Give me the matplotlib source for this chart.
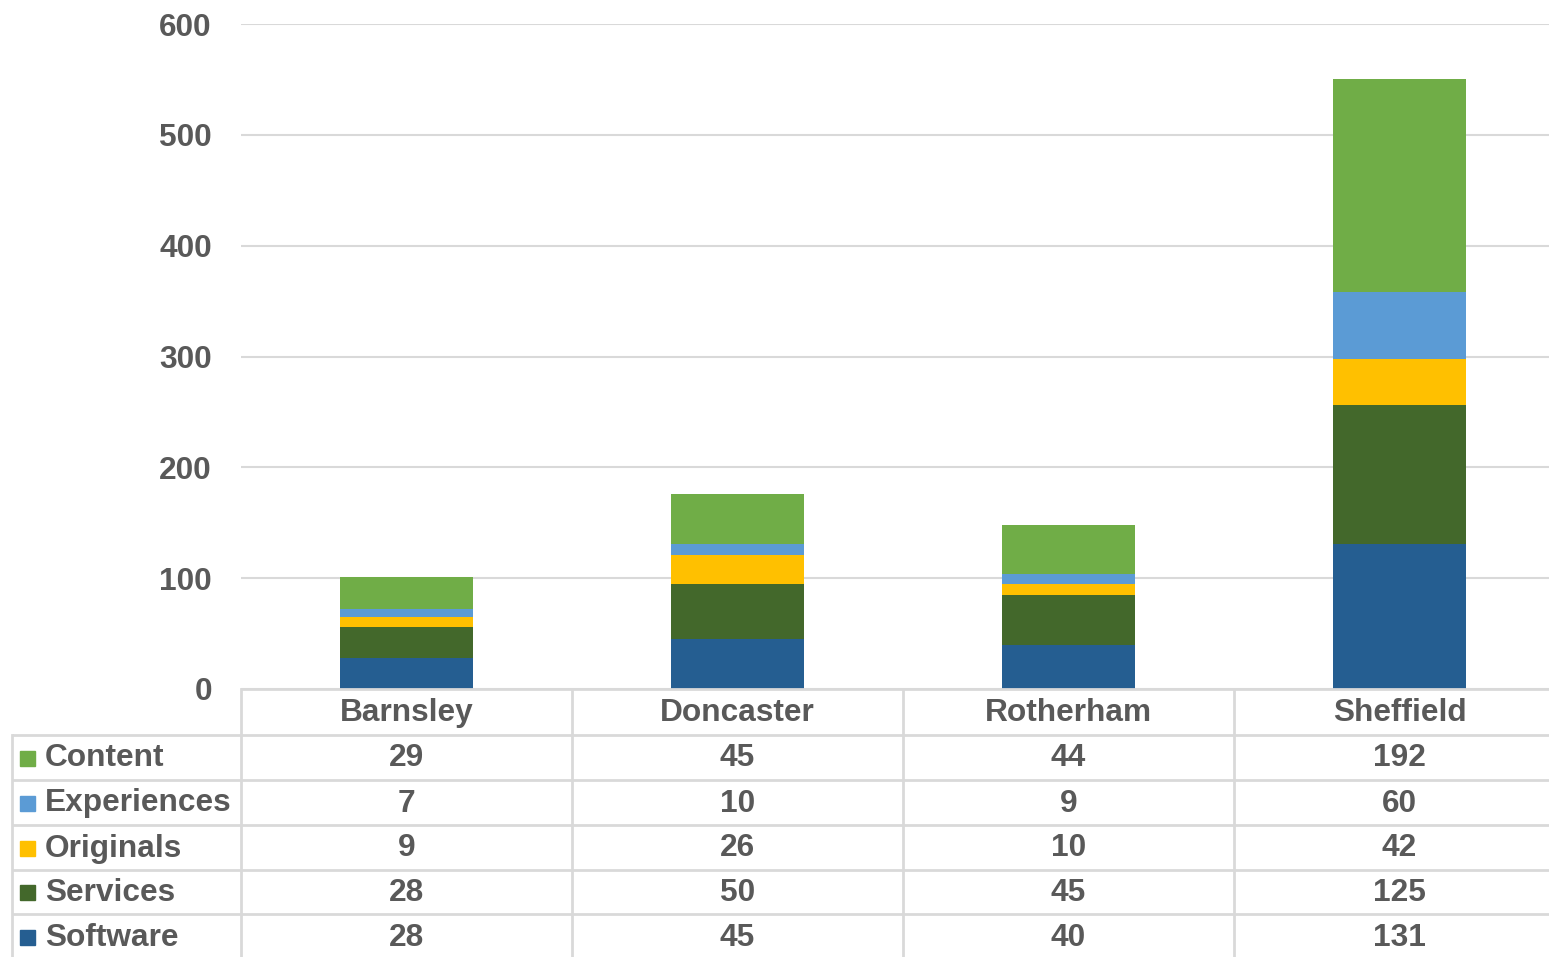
import matplotlib
matplotlib.use("Agg")
import matplotlib.pyplot as plt
from matplotlib.transforms import blended_transform_factory
from matplotlib.patches import Rectangle

categories = ["Barnsley", "Doncaster", "Rotherham", "Sheffield"]
series_names = ["Software", "Services", "Originals", "Experiences", "Content"]
software = [28, 45, 40, 131]
services = [28, 50, 45, 125]
originals = [9, 26, 10, 42]
experiences = [7, 10, 9, 60]
content = [29, 45, 44, 192]
yticks = [0, 100, 200, 300, 400, 500, 600]

series = [software, services, originals, experiences, content]
colors = ["#255E91", "#43682B", "#FFC000", "#5B9BD5", "#70AD47"]

plt.rcParams['font.family'] = ['Liberation Sans', 'DejaVu Sans']
W, H = 1549, 957
fig = plt.figure(figsize=(W / 100, H / 100), dpi=100)
fig.patch.set_facecolor("white")

txt = "#595959"
grid = "#D9D9D9"
fs = 22.8

# main axes in pixel layout
left, right, top, bottom = 241, 1565, 24, 689
ax = fig.add_axes([left / W, (H - bottom) / H, (right - left) / W, (bottom - top) / H])
ax.set_xlim(-0.5, 3.5)
ax.set_ylim(0, 600)
x = list(range(len(categories)))
base = [0] * len(categories)
for vals, col in zip(series, colors):
    ax.bar(x, vals, width=0.40, bottom=base, color=col, zorder=3)
    base = [b + v for b, v in zip(base, vals)]
ax.set_yticks(yticks)
ax.set_yticklabels([str(t) for t in yticks], fontsize=fs, fontweight="bold", color=txt)
ax.tick_params(axis="y", length=0, pad=21)
ax.set_xticks([])
for s in ax.spines.values():
    s.set_visible(False)
ax.yaxis.grid(True, color=grid, linewidth=1.5, zorder=0)
ax.set_axisbelow(True)

# table overlay in pixel coordinates (y down)
ov = fig.add_axes([0, 0, 1, 1], facecolor="none")
ov.set_xlim(0, W)
ov.set_ylim(H, 0)
ov.axis("off")
tr = blended_transform_factory(ax.transData, ov.transData)

row_edges = [689, 735, 780, 825, 870, 914, 960]
lw = 2.0
ov.plot([left, W], [689, 689], color=grid, lw=lw, solid_capstyle="butt")
for yy in row_edges[1:-1]:
    ov.plot([12, W], [yy, yy], color=grid, lw=lw, solid_capstyle="butt")
ov.plot([12, 12], [735, H], color=grid, lw=lw)
for bx in [-0.5, 0.5, 1.5, 2.5]:
    ov.plot([bx, bx], [689, H], color=grid, lw=lw, transform=tr)

# header
for i, c in enumerate(categories):
    ov.text(i, 713, c, transform=tr, ha="center", va="center", fontsize=fs,
            fontweight="bold", color=txt)

# rows: top to bottom = Content, Experiences, Originals, Services, Software
order = list(range(len(series)))[::-1]
for r, si in enumerate(order):
    yc = (row_edges[r + 1] + row_edges[r + 2]) / 2 + 1
    ov.add_patch(Rectangle((20, yc - 8), 15, 15, color=colors[si]))
    ov.text(45, yc, series_names[si], ha="left", va="center", fontsize=fs,
            fontweight="bold", color=txt)
    for i, v in enumerate(series[si]):
        ov.text(i, yc, str(v), transform=tr, ha="center", va="center",
                fontsize=fs, fontweight="bold", color=txt)

fig.savefig("out.png", dpi=100, facecolor="white")
